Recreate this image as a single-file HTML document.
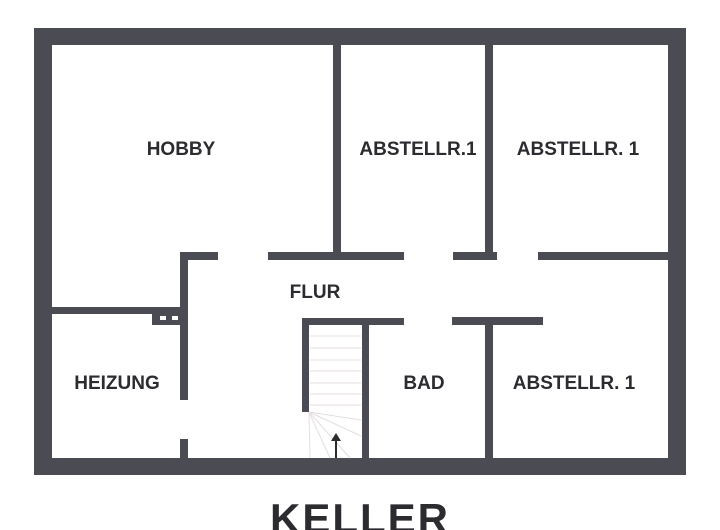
<!DOCTYPE html>
<html><head><style>
html,body{margin:0;padding:0;background:#fff;width:720px;height:530px;overflow:hidden}
text{font-family:"Liberation Sans",sans-serif;font-weight:bold;fill:#2c2c30}
</style></head><body>
<svg width="720" height="530" viewBox="0 0 720 530" xmlns="http://www.w3.org/2000/svg">
<g fill="#4a4b53">
<rect x="34" y="28" width="652" height="17"/>
<rect x="34" y="458" width="652" height="17"/>
<rect x="34" y="28" width="18" height="447"/>
<rect x="668" y="28" width="18" height="447"/>
<rect x="333" y="45" width="8" height="213"/>
<rect x="485" y="45" width="8" height="213"/>
<rect x="180" y="252" width="38" height="8"/>
<rect x="268" y="252" width="136" height="8"/>
<rect x="453" y="252" width="44" height="8"/>
<rect x="538" y="252" width="130" height="8"/>
<rect x="180" y="252" width="8" height="148"/>
<rect x="180" y="439" width="8" height="19"/>
<rect x="52" y="307" width="130" height="7"/>
<rect x="152" y="314" width="30" height="11"/>
<rect x="302" y="318" width="102" height="7"/>
<rect x="302" y="318" width="7" height="94"/>
<rect x="362" y="318" width="7" height="140"/>
<rect x="452" y="317" width="91" height="8"/>
<rect x="485" y="317" width="8" height="141"/>
</g>
<g fill="#fff"><rect x="160" y="316" width="6" height="4"/><rect x="172" y="316" width="6" height="4"/></g>
<g stroke="#e4dede" stroke-width="1">
<line x1="310" y1="336" x2="361" y2="336"/><line x1="310" y1="348" x2="361" y2="348"/>
<line x1="310" y1="360" x2="361" y2="360"/><line x1="310" y1="371" x2="361" y2="371"/>
<line x1="310" y1="383" x2="361" y2="383"/><line x1="310" y1="394" x2="361" y2="394"/>
<line x1="310" y1="405" x2="361" y2="405"/>
<line x1="309" y1="412" x2="361" y2="420"/><line x1="309" y1="412" x2="361" y2="436"/>
<line x1="309" y1="412" x2="350" y2="458"/><line x1="309" y1="412" x2="330" y2="458"/>
<line x1="309" y1="412" x2="310" y2="458"/>
</g>
<rect x="335" y="440" width="2" height="18" fill="#2c2c30"/>
<polygon points="336,433 331,441 341,441" fill="#2c2c30"/>
<g font-size="19" text-anchor="middle">
<text x="181" y="155">HOBBY</text>
<text x="418" y="155">ABSTELLR.1</text>
<text x="578" y="155">ABSTELLR. 1</text>
<text x="315" y="298">FLUR</text>
<text x="117" y="389">HEIZUNG</text>
<text x="424" y="389">BAD</text>
<text x="574" y="389">ABSTELLR.  1</text>
</g>
<text x="360" y="533" font-size="42" text-anchor="middle" letter-spacing="2">KELLER</text>
</svg>
</body></html>
